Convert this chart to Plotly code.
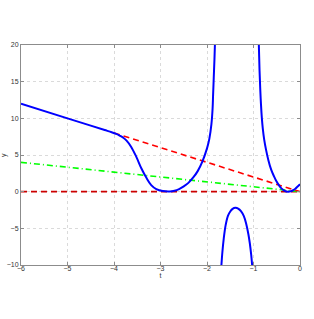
import plotly.graph_objects as go

# Blue curve, three branches
b1_t = [-6, -5, -4.5, -4.2, -4.05, -3.95, -3.88, -3.8, -3.73, -3.63, -3.52, -3.41, -3.3, -3.2, -3.09, -2.95, -2.8, -2.7, -2.6, -2.5, -2.4, -2.3, -2.2, -2.1, -2.0, -1.95, -1.905, -1.88, -1.87, -1.855, -1.84, -1.83]
b1_y = [12, 10, 9, 8.4, 8.1, 7.88, 7.65, 7.35, 6.95, 6.1, 4.74, 3.16, 1.85, 0.9, 0.35, 0.08, 0.02, 0.12, 0.35, 0.72, 1.2, 1.9, 2.8, 4.1, 5.9, 7.2, 9.2, 11.3, 13.0, 15.5, 18.0, 20]

b2_t = [-1.69, -1.67, -1.64, -1.6, -1.55, -1.5, -1.45, -1.39, -1.33, -1.27, -1.21, -1.16, -1.11, -1.08, -1.05, -1.03]
b2_y = [-10, -8.3, -6.4, -4.6, -3.3, -2.7, -2.35, -2.2, -2.3, -2.65, -3.3, -4.3, -5.8, -7.0, -8.6, -10]

b3_t = [-0.885, -0.87, -0.855, -0.84, -0.82, -0.8, -0.77, -0.73, -0.68, -0.62, -0.56, -0.51, -0.45, -0.4, -0.33, -0.26, -0.2, -0.15, -0.1, -0.05, 0]
b3_y = [20, 16.5, 14, 12, 10, 8.6, 7.1, 5.7, 4.3, 3.0, 2.1, 1.45, 0.85, 0.45, 0.12, 0.0, 0.05, 0.2, 0.4, 0.7, 1.0]

# Dashed reference lines
red_t = [-4, 0]
red_y = [8, 0]
green_t = [-6, 0]
green_y = [4, 0]
zero_t = [-6, 0]
zero_y = [0, 0]

x_ticks = [-6, -5, -4, -3, -2, -1, 0]
y_ticks = [-10, -5, 0, 5, 10, 15, 20]

fig = go.Figure()
fig.add_trace(go.Scatter(x=zero_t, y=zero_y, mode="lines",
                         line=dict(color="#cc0000", width=1.6, dash="6px,4px")))
fig.add_trace(go.Scatter(x=green_t, y=green_y, mode="lines",
                         line=dict(color="#00ff00", width=1.6, dash="6px,3px,1px,3px")))
fig.add_trace(go.Scatter(x=red_t, y=red_y, mode="lines",
                         line=dict(color="#ff0000", width=1.6, dash="6px,4px")))
for tt, yy in [(b1_t, b1_y), (b2_t, b2_y), (b3_t, b3_y)]:
    fig.add_trace(go.Scatter(x=tt, y=yy, mode="lines", line_shape="spline",
                             line=dict(color="#0000ff", width=2)))

axis_common = dict(showline=True, linecolor="#8c8c8c", linewidth=1, mirror="ticks",
                   ticks="inside", ticklen=3, tickcolor="#8c8c8c",
                   showgrid=True, gridcolor="#dadada", griddash="dot", gridwidth=1,
                   zeroline=False, automargin=False,
                   tickfont=dict(size=7, color="#333333", family="Liberation Sans"))

fig.update_layout(
    width=314, height=319,
    margin=dict(l=21, r=14, t=45, b=54, autoexpand=False),
    paper_bgcolor="white", plot_bgcolor="white",
    showlegend=False,
    xaxis=dict(range=[-6, 0], tickvals=x_ticks, ticklabelstandoff=-3,
               title=dict(text="t", font=dict(size=7, color="#333333", family="Liberation Sans"), standoff=0),
               **axis_common),
    yaxis=dict(range=[-10, 20], tickvals=y_ticks, **axis_common),
    annotations=[dict(text="y", x=0, y=0.5, xref="paper", yref="paper",
                      xanchor="center", yanchor="middle", xshift=-17, textangle=-90,
                      showarrow=False,
                      font=dict(size=7, color="#333333", family="Liberation Sans"))],
)
fig.write_html("out.html", config={"displayModeBar": False},
               post_script="document.body.style.margin='0px';")
